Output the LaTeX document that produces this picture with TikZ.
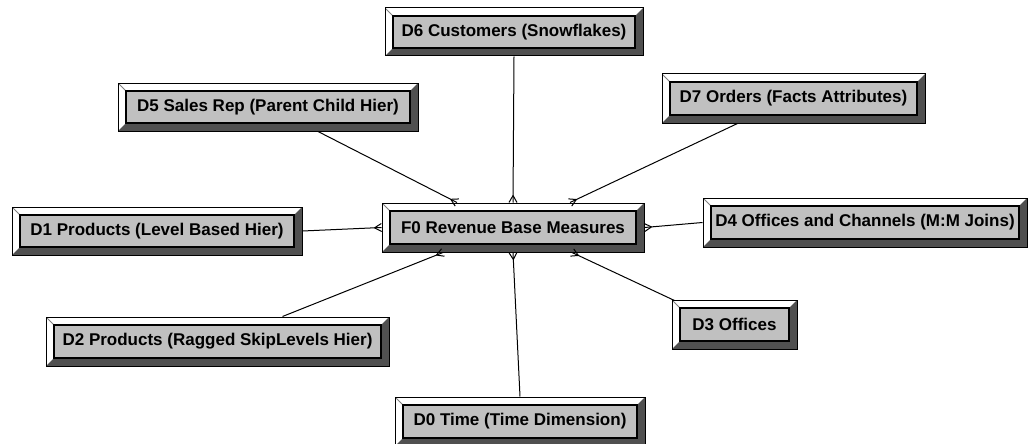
\documentclass[tikz,border=0pt]{standalone}
\usepackage{fontspec}
\setmainfont{Liberation Sans}
\usetikzlibrary{decorations.markings}
\definecolor{boxface}{HTML}{C0C0C0}
\definecolor{boxshade}{HTML}{505050}
\tikzset{
  dimbox/.style={draw=black, fill=white, line width=1pt, minimum height=49pt,
    font=\bfseries\fontsize{17pt}{20pt}\selectfont, inner sep=0pt,
    path picture={
      \fill[boxshade] (path picture bounding box.south west)
        -- (path picture bounding box.south east)
        -- (path picture bounding box.north east)
        -- ([shift={(-8pt,-8pt)}]path picture bounding box.north east)
        -- ([shift={(-8pt,8pt)}]path picture bounding box.south east)
        -- ([shift={(8pt,8pt)}]path picture bounding box.south west) -- cycle;
      \draw[gray, line width=0.8pt] (path picture bounding box.north west)
        -- ([shift={(8pt,-8pt)}]path picture bounding box.north west);
      \filldraw[fill=boxface, draw=black, line width=1.2pt]
        ([shift={(8pt,8pt)}]path picture bounding box.south west)
        rectangle ([shift={(-8pt,-8pt)}]path picture bounding box.north east);
    }},
  link/.style={draw=black, line width=1pt},
  crowfoot/.style={postaction={decorate, decoration={markings,
    mark=at position 1 with {\draw[line width=1pt] (-7pt,0) -- (0,4pt) (-7pt,0) -- (0,-4pt);}}}}
}
\begin{document}
\begin{tikzpicture}[x=1pt, y=-1pt]
  \useasboundingbox (0,0) rectangle (1028,444);
  \node[dimbox, minimum width=262pt] (f0) at (513,227.5) {F0 Revenue Base Measures};
  \node[dimbox, minimum width=258pt, minimum height=48pt] (d6) at (514,32) {D6 Customers (Snowflakes)};
  \node[dimbox, minimum width=300pt, minimum height=48pt] (d5) at (268,107) {D5 Sales Rep (Parent Child Hier)};
  \node[dimbox, minimum width=263pt] (d7) at (793.5,98.5) {D7 Orders (Facts Attributes)};
  \node[dimbox, minimum width=290pt, minimum height=48pt] (d1) at (157,231) {D1 Products (Level Based Hier)};
  \node[dimbox, minimum width=324pt] (d4) at (865,222.5) {D4 Offices and Channels (M:M Joins)};
  \node[dimbox, minimum width=343pt] (d2) at (217.5,341.5) {D2 Products (Ragged SkipLevels Hier)};
  \node[dimbox, minimum width=125pt] (d3) at (734.5,324.5) {D3 Offices};
  \node[dimbox, minimum width=250pt] (d0) at (520,421.5) {D0 Time (Time Dimension)};

  \draw[link, crowfoot] (d6.south) -- (f0.north);
  \draw[link, crowfoot] ([xshift=50pt]d5.south) -- ([xshift=-56pt]f0.north);
  \draw[link, crowfoot] ([xshift=-56pt]d7.south) -- ([xshift=57pt]f0.north);
  \draw[link, crowfoot] (d1.east) -- (f0.west);
  \draw[link, crowfoot] (d4.west) -- (f0.east);
  \draw[link, crowfoot] ([xshift=65pt]d2.north) -- ([xshift=-70pt]f0.south);
  \draw[link, crowfoot] (d0.north) -- (f0.south);
  \draw[link, crowfoot] ([shift={(3pt,-1pt)}]d3.north west) -- ([xshift=59pt]f0.south);
\end{tikzpicture}
\end{document}
